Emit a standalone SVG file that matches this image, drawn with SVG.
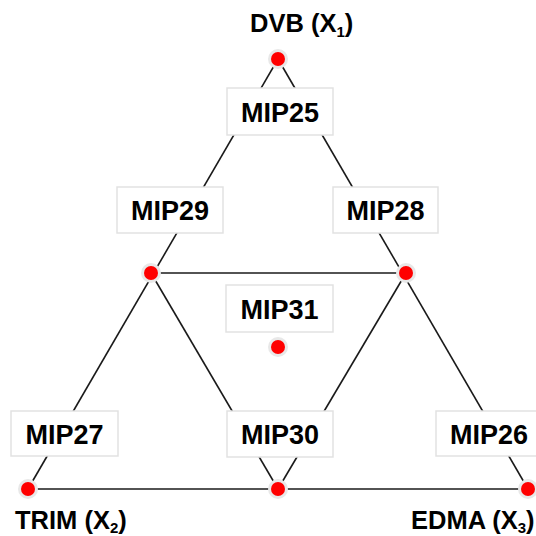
<svg xmlns="http://www.w3.org/2000/svg" width="536" height="536" viewBox="0 0 536 536">
  <style>
    .edge { stroke: #1a1a1a; stroke-width: 1.6; fill: none; }
    .box { fill: #ffffff; stroke: #e2e2e2; stroke-width: 1.5; }
    .lbl { font-family: "Liberation Sans", Arial, sans-serif; font-weight: bold; font-size: 27px; fill: #000; text-anchor: middle; }
    .axis { font-family: "Liberation Sans", Arial, sans-serif; font-weight: bold; font-size: 25.5px; fill: #000; }
    .halo { fill: #e8e8e8; }
    .dot { fill: #ff0000; }
  </style>
  <defs>
    <g id="pt">
      <circle class="halo" r="10"/>
      <circle class="dot" r="7"/>
    </g>
  </defs>

  <!-- triangle edges and inner subdivision -->
  <g id="connectors">
    <line class="edge" x1="278" y1="59" x2="28" y2="489"/>
    <line class="edge" x1="278" y1="59" x2="528" y2="489"/>
    <line class="edge" x1="28" y1="489" x2="528" y2="489"/>
    <line class="edge" x1="151" y1="273" x2="406" y2="273"/>
    <line class="edge" x1="151" y1="273" x2="278" y2="489"/>
    <line class="edge" x1="406" y1="273" x2="278" y2="489"/>
  </g>

  <!-- mixture points -->
  <g id="points">
    <use href="#pt" x="278" y="59"/>
    <use href="#pt" x="151" y="273"/>
    <use href="#pt" x="406" y="273"/>
    <use href="#pt" x="278" y="347"/>
    <use href="#pt" x="28" y="489"/>
    <use href="#pt" x="278" y="489"/>
    <use href="#pt" x="528" y="489"/>
  </g>

  <g id="MIP25">
    <rect class="box" x="227" y="88" width="106" height="47"/>
    <text class="lbl" x="280" y="121.5">MIP25</text>
  </g>
  <g id="MIP29">
    <rect class="box" x="117" y="187" width="106" height="46"/>
    <text class="lbl" x="170" y="220">MIP29</text>
  </g>
  <g id="MIP28">
    <rect class="box" x="333" y="187" width="105" height="46"/>
    <text class="lbl" x="385.5" y="220">MIP28</text>
  </g>
  <g id="MIP31">
    <rect class="box" x="226" y="285" width="107" height="47"/>
    <text class="lbl" x="279.5" y="318.5">MIP31</text>
  </g>
  <g id="MIP27">
    <rect class="box" x="11" y="411" width="107" height="45"/>
    <text class="lbl" x="64.5" y="443.5">MIP27</text>
  </g>
  <g id="MIP30">
    <rect class="box" x="227" y="411" width="106" height="46"/>
    <text class="lbl" x="280" y="444">MIP30</text>
  </g>
  <g id="MIP26">
    <rect class="box" x="436" y="411" width="106" height="45"/>
    <text class="lbl" x="489" y="443.5">MIP26</text>
  </g>

  <!-- component axis labels -->
  <g id="DVB">
    <text class="axis" x="250" y="32">DVB (X<tspan font-size="15" dy="5">1</tspan><tspan dy="-5">)</tspan></text>
  </g>
  <g id="TRIM">
    <text class="axis" x="15" y="529">TRIM (X<tspan font-size="15" dy="4">2</tspan><tspan dy="-4">)</tspan></text>
  </g>
  <g id="EDMA">
    <text class="axis" x="411" y="529">EDMA (X<tspan font-size="15" dy="4">3</tspan><tspan dy="-4">)</tspan></text>
  </g>
</svg>
